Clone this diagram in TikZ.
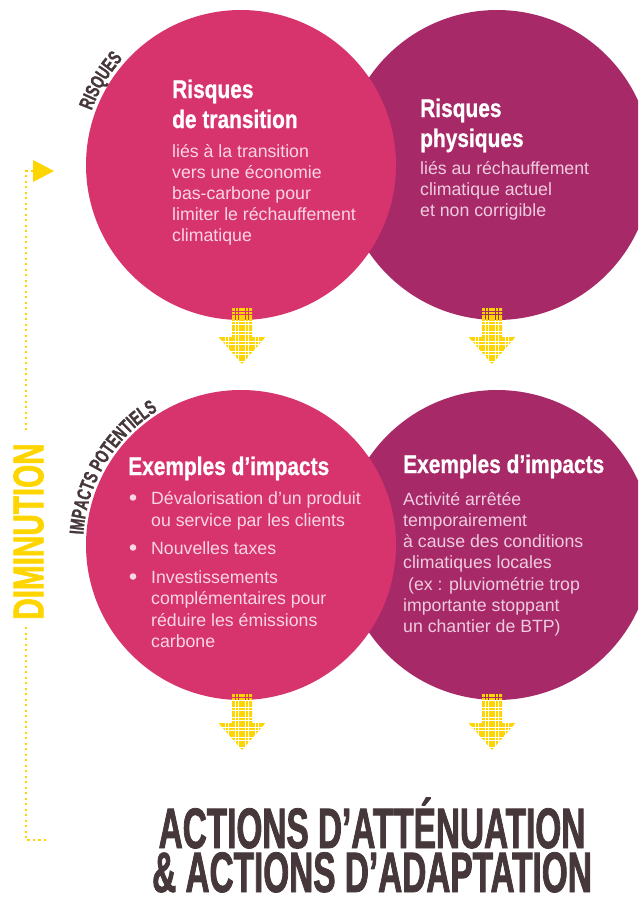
\documentclass[tikz,border=0pt]{standalone}
\usepackage{fontspec}
\setmainfont{Liberation Sans}
\newfontfamily\condtitle[FakeStretch=0.82,FakeBold=0.8]{Liberation Sans}
\newfontfamily\condbig[FakeStretch=0.585,FakeBold=1.4]{Liberation Sans}
\newfontfamily\conddim[FakeStretch=0.69,FakeBold=1.4]{Liberation Sans}
\newfontfamily\condlab[FakeStretch=0.68,FakeBold=1.2]{Liberation Sans}
\usetikzlibrary{calc,decorations.text}
\definecolor{cpink}{RGB}{215,51,109}
\definecolor{cpurple}{RGB}{168,41,104}
\definecolor{ayellow}{RGB}{255,213,0}
\definecolor{cdark}{RGB}{69,55,58}
\definecolor{txtpink}{RGB}{250,214,228}
\definecolor{txtpurple}{RGB}{238,204,224}
\tikzset{
 bigcirc/.style={circle, minimum size=310pt, inner sep=0pt, draw=none},
 ctitle/.style={anchor=base west, inner sep=0pt, text=white, font=\condtitle\bfseries\fontsize{25.5}{25.5}\selectfont},
 cbody/.style={anchor=base west, inner sep=0pt, font=\fontsize{17.7}{21}\selectfont},
 dotline/.style={draw=ayellow, line width=2.3pt, dash pattern=on 2.3pt off 3.2pt},
 bul/.style={circle, fill=txtpink, inner sep=0pt, minimum size=6.6pt},
}
\newcommand\dotarrow[2]{%
 \begin{scope}[shift={(#1,-#2)}]
  \clip (-10,0) -- (10,0) -- (10,-29) -- (23.5,-29) -- (0,-56) -- (-23.5,-29) -- (-10,-29) -- cycle;
  \foreach \i in {-7,...,6} \foreach \j in {0,...,17}
   \fill[ayellow] ({(\i+0.5)*3.33-1.25},{-\j*3.33-0.4}) rectangle ++(2.5,-2.5);
 \end{scope}}
\begin{document}
\begin{tikzpicture}[x=1pt,y=1pt]
\useasboundingbox (0,0) rectangle (638,-897);
\clip (0,0) rectangle (638,-897);
% circles
\node[bigcirc, fill=cpurple] (tr) at (497,-165) {};
\node[bigcirc, fill=cpink] (tl) at (241,-165) {};
\node[bigcirc, fill=cpurple] (br) at (497,-545) {};
\node[bigcirc, fill=cpink] (bl) at (241,-545) {};
% top-left text
\node[ctitle] (tlt1) at (172,-98) {Risques};
\node[ctitle] (tlt2) at (172,-128) {de transition};
\foreach \t [count=\i from 0] in {liés à la transition, vers une économie, bas-carbone pour, limiter le réchauffement, climatique}
  \node[cbody, text=txtpink] (tlb\i) at (172,{-157-21*\i}) {\t};
% top-right text
\node[ctitle] (trt1) at (420,-117) {Risques};
\node[ctitle] (trt2) at (420,-147) {physiques};
\foreach \t [count=\i from 0] in {liés au réchauffement, climatique actuel, et non corrigible}
  \node[cbody, text=txtpurple] (trb\i) at (420,{-174-21*\i}) {\t};
% bottom-left text
\node[ctitle] (blt) at (128,-475) {Exemples d’impacts};
\node[cbody, text=txtpink] (bl1) at (151,-504) {Dévalorisation d’un produit};
\node[cbody, text=txtpink] (bl2) at (151,-526) {ou service par les clients};
\node[cbody, text=txtpink] (bl3) at (151,-554) {Nouvelles taxes};
\node[cbody, text=txtpink] (bl4) at (151,-583) {Investissements};
\node[cbody, text=txtpink] (bl5) at (151,-604) {complémentaires pour};
\node[cbody, text=txtpink] (bl6) at (151,-626) {réduire les émissions};
\node[cbody, text=txtpink] (bl7) at (151,-647) {carbone};
\node[bul] (b1) at (133,-497.5) {};
\node[bul] (b2) at (133,-547.5) {};
\node[bul] (b3) at (133,-576.5) {};
% bottom-right text
\node[ctitle] (brt) at (403,-473) {Exemples d’impacts};
\foreach \t [count=\i from 0] in {Activité arrêtée, temporairement, à cause des conditions, climatiques locales, \ (ex : pluviométrie trop, importante stoppant, un chantier de BTP)}
  \node[cbody, text=txtpurple] (brb\i) at (403,{-505-21.3*\i}) {\t};
% dotted arrows
\dotarrow{242}{308}
\dotarrow{492}{308}
\dotarrow{242}{694}
\dotarrow{492}{694}
% curved labels
\path[decorate, decoration={text along path, text align=center, text color=cdark,
  text={|\condlab\bfseries\fontsize{20}{20}\selectfont|RISQUES}}]
  ($(tl)+(175:159)$) arc[start angle=175, end angle=123, radius=159];
\path[decorate, decoration={text along path, text align=center, text color=cdark,
  text={|\condlab\bfseries\fontsize{20}{20}\selectfont|IMPACTS POTENTIELS}}]
  ($(bl)+(185:158)$) arc[start angle=185, end angle=113, radius=158];
% diminution
\node[rotate=90, inner sep=0pt, text=ayellow, font=\conddim\bfseries\fontsize{43}{43}\selectfont] (dim) at (28.5,-531.5) {DIMINUTION};
\fill[ayellow] (33,-160) -- (54,-171) -- (33,-182) -- cycle;
\coordinate (tri) at (33,-171);
\coordinate (ctop) at (26,-171);
\coordinate (g1) at (26,-432);
\coordinate (g2) at (26,-627);
\coordinate (cbot) at (26,-840);
\coordinate (cend) at (48,-840);
\draw[dotline] (tri) -- (ctop) -- (g1);
\draw[dotline] (g2) -- (cbot) -- (cend);
% bottom title
\node[anchor=base, inner sep=0pt, text=cdark, font=\condbig\bfseries\fontsize{57}{57}\selectfont] (t1) at (372,-848) {ACTIONS D’ATTÉNUATION};
\node[anchor=base, inner sep=0pt, text=cdark, font=\condbig\bfseries\fontsize{57}{57}\selectfont] (t2) at (372,-892) {\& ACTIONS D’ADAPTATION};
\end{tikzpicture}
\end{document}
